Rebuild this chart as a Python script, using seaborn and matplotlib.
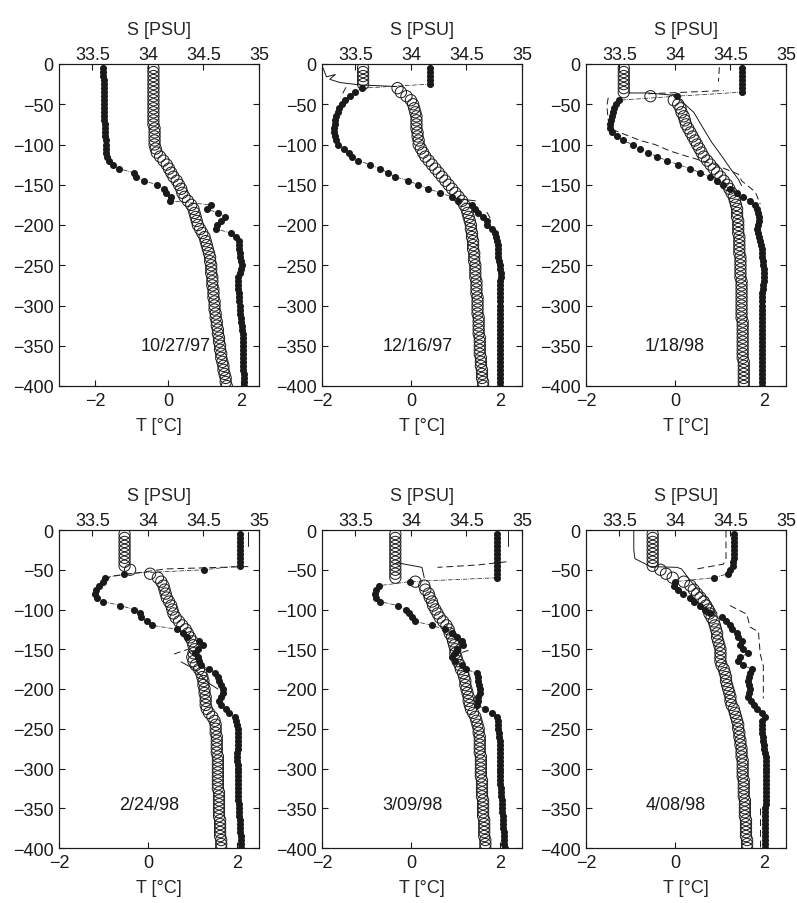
import numpy as np
import pandas as pd
import matplotlib
matplotlib.use("Agg")
import matplotlib.pyplot as plt
import seaborn as sns

sns.set_theme(style="ticks")
plt.rcParams['font.family'] = ['Liberation Sans', 'DejaVu Sans']
plt.rcParams['axes.linewidth'] = 0.8

# ---------------- data ----------------
DEPTH = [-5, -10, -15, -20, -25, -30, -35, -40, -45, -50,
         -55, -60, -65, -70, -75, -80, -85, -90, -95, -100,
         -105, -110, -115, -120, -125, -130, -135, -140, -145, -150,
         -155, -160, -165, -170, -175, -180, -185, -190, -195, -200,
         -205, -210, -215, -220, -225, -230, -235, -240, -245, -250,
         -255, -260, -265, -270, -275, -280, -285, -290, -295, -300,
         -305, -310, -315, -320, -325, -330, -335, -340, -345, -350,
         -355, -360, -365, -370, -375, -380, -385, -390, -395, -400]

DATES = ["10/27/97", "12/16/97", "1/18/98", "2/24/98", "3/09/98", "4/08/98"]

T1 = [-1.78, -1.78, -1.78, -1.77, -1.77, -1.77, -1.77, -1.76, -1.76, -1.76,
      -1.76, -1.75, -1.75, -1.75, -1.74, -1.74, -1.73, -1.73, -1.72, -1.72,
      -1.71, -1.70, -1.68, -1.62, -1.52, -1.36, -0.95, -0.88, -0.67, -0.30,
      -0.12, -0.05, 0.07, 0.05, 1.18, 1.08, 1.36, 1.57, 1.45, 1.35,
      1.32, 1.73, 1.87, 1.94, 1.95, 1.96, 1.97, 1.99, 2.01, 2.03,
      2.01, 1.97, 1.93, 1.92, 1.92, 1.93, 1.94, 1.95, 1.96, 1.97,
      1.98, 1.99, 2.00, 2.01, 2.02, 2.04, 2.05, 2.06, 2.06, 2.07,
      2.07, 2.06, 2.06, 2.05, 2.06, 2.07, 2.08, 2.08, 2.09, 2.10]
S1 = [34.05, 34.05, 34.05, 34.05, 34.05, 34.05, 34.05, 34.05, 34.05, 34.05,
      34.05, 34.05, 34.05, 34.05, 34.05, 34.06, 34.06, 34.06, 34.06, 34.06,
      34.07, 34.08, 34.11, 34.14, 34.17, 34.19, 34.21, 34.23, 34.26, 34.28,
      34.30, 34.31, 34.33, 34.36, 34.39, 34.41, 34.42, 34.43, 34.44, 34.45,
      34.47, 34.49, 34.51, 34.52, 34.53, 34.54, 34.55, 34.56, 34.56, 34.57,
      34.57, 34.57, 34.58, 34.58, 34.58, 34.59, 34.59, 34.59, 34.60, 34.60,
      34.60, 34.61, 34.61, 34.62, 34.62, 34.63, 34.63, 34.64, 34.64, 34.65,
      34.65, 34.66, 34.66, 34.67, 34.68, 34.68, 34.69, 34.70, 34.70, 34.71]

T2 = [0.43, 0.43, 0.43, 0.43, 0.43, -1.10, -1.25, -1.38, -1.48, -1.56,
      -1.61, -1.65, -1.68, -1.70, -1.71, -1.72, -1.72, -1.71, -1.69, -1.64,
      -1.50, -1.40, -1.33, -1.19, -0.92, -0.70, -0.51, -0.36, -0.06, 0.17,
      0.39, 0.66, 0.92, 1.07, 1.37, 1.45, 1.52, 1.62, 1.71, 1.71,
      1.82, 1.90, 1.92, 1.94, 1.95, 1.96, 1.97, 1.97, 1.99, 2.01,
      2.01, 2.02, 2.02, 2.01, 2.01, 2.01, 2.00, 2.01, 2.01, 2.01,
      2.01, 2.00, 2.00, 2.00, 2.00, 2.00, 2.00, 2.00, 2.00, 2.00,
      2.00, 2.00, 2.00, 2.00, 2.00, 2.00, 2.00, 2.00, 2.00, 2.00]
S2 = [33.57, 33.57, 33.57, 33.57, 33.57, 33.88, 33.91, 33.96, 34.00, 34.02,
      34.03, 34.04, 34.05, 34.05, 34.05, 34.05, 34.06, 34.06, 34.07, 34.07,
      34.09, 34.11, 34.13, 34.16, 34.19, 34.22, 34.25, 34.28, 34.31, 34.34,
      34.37, 34.40, 34.43, 34.46, 34.48, 34.50, 34.51, 34.52, 34.53, 34.54,
      34.54, 34.55, 34.55, 34.56, 34.56, 34.56, 34.57, 34.57, 34.57, 34.58,
      34.58, 34.58, 34.58, 34.59, 34.59, 34.59, 34.59, 34.60, 34.60, 34.60,
      34.60, 34.60, 34.61, 34.61, 34.61, 34.61, 34.61, 34.62, 34.62, 34.62,
      34.62, 34.62, 34.63, 34.63, 34.63, 34.64, 34.64, 34.64, 34.65, 34.65]

T3 = [1.50, 1.50, 1.50, 1.50, 1.50, 1.50, 1.50, 0.04, -1.25, -1.33,
      -1.36, -1.39, -1.42, -1.44, -1.46, -1.45, -1.42, -1.30, -1.17, -0.95,
      -0.78, -0.60, -0.41, -0.18, 0.08, 0.34, 0.57, 0.79, 0.94, 1.09,
      1.24, 1.39, 1.54, 1.69, 1.80, 1.84, 1.88, 1.90, 1.89, 1.87,
      1.85, 1.88, 1.90, 1.91, 1.93, 1.95, 1.96, 1.97, 1.98, 1.99,
      2.00, 2.00, 2.00, 2.00, 1.99, 1.98, 1.97, 1.96, 1.95, 1.95,
      1.95, 1.95, 1.95, 1.95, 1.95, 1.95, 1.95, 1.95, 1.95, 1.95,
      1.95, 1.96, 1.96, 1.96, 1.96, 1.96, 1.97, 1.97, 1.97, 1.97]
S3 = [33.54, 33.54, 33.54, 33.54, 33.54, 33.54, 33.54, 33.78, 33.99, 34.03,
      34.05, 34.06, 34.08, 34.09, 34.10, 34.12, 34.14, 34.16, 34.18, 34.20,
      34.22, 34.24, 34.26, 34.29, 34.32, 34.35, 34.38, 34.41, 34.44, 34.47,
      34.49, 34.51, 34.53, 34.54, 34.55, 34.56, 34.56, 34.56, 34.57, 34.57,
      34.57, 34.57, 34.58, 34.58, 34.58, 34.58, 34.58, 34.59, 34.59, 34.59,
      34.59, 34.59, 34.59, 34.60, 34.60, 34.60, 34.60, 34.60, 34.60, 34.60,
      34.60, 34.60, 34.60, 34.61, 34.61, 34.61, 34.61, 34.61, 34.61, 34.61,
      34.61, 34.61, 34.61, 34.62, 34.62, 34.62, 34.62, 34.62, 34.62, 34.62]

T4 = [2.08, 2.08, 2.08, 2.08, 2.08, 2.08, 2.08, 2.08, 2.08, 1.26,
      -0.54, -0.96, -1.00, -1.11, -1.17, -1.19, -1.15, -1.00, -0.62, -0.32,
      -0.17, -0.15, -0.02, 0.10, 0.66, 0.78, 0.89, 1.15, 1.23, 1.12,
      1.05, 1.12, 1.15, 1.19, 1.38, 1.50, 1.57, 1.61, 1.65, 1.68,
      1.68, 1.64, 1.61, 1.64, 1.76, 1.83, 1.95, 1.99, 2.01, 2.02,
      2.03, 2.03, 2.03, 2.02, 2.02, 2.01, 2.01, 2.01, 2.02, 2.02,
      2.02, 2.02, 2.02, 2.02, 2.02, 2.02, 2.03, 2.03, 2.04, 2.04,
      2.05, 2.06, 2.07, 2.08, 2.08, 2.08, 2.09, 2.09, 2.10, 2.10]
S4 = [33.79, 33.79, 33.79, 33.79, 33.79, 33.79, 33.79, 33.79, 33.79, 33.84,
      34.02, 34.09, 34.12, 34.14, 34.15, 34.16, 34.17, 34.19, 34.21, 34.22,
      34.23, 34.25, 34.28, 34.31, 34.34, 34.36, 34.38, 34.40, 34.41, 34.42,
      34.41, 34.40, 34.41, 34.43, 34.46, 34.48, 34.49, 34.50, 34.50, 34.51,
      34.51, 34.52, 34.52, 34.52, 34.53, 34.55, 34.58, 34.60, 34.61, 34.61,
      34.61, 34.62, 34.62, 34.62, 34.62, 34.62, 34.63, 34.63, 34.63, 34.63,
      34.63, 34.63, 34.63, 34.63, 34.63, 34.64, 34.64, 34.64, 34.64, 34.64,
      34.64, 34.64, 34.65, 34.65, 34.65, 34.65, 34.65, 34.66, 34.66, 34.66]

T5 = [1.94, 1.94, 1.94, 1.94, 1.94, 1.94, 1.94, 1.94, 1.94, 1.94,
      1.94, 1.94, -0.03, -0.71, -0.78, -0.80, -0.78, -0.70, -0.30, -0.12,
      -0.05, 0.02, 0.10, 0.47, 0.77, 0.92, 1.03, 1.14, 1.17, 1.03,
      0.99, 0.92, 0.99, 1.16, 1.23, 1.48, 1.52, 1.52, 1.54, 1.56,
      1.55, 1.52, 1.50, 1.48, 1.67, 1.82, 1.94, 1.97, 1.97, 1.97,
      1.98, 1.99, 2.00, 2.01, 2.01, 2.01, 2.01, 2.01, 2.01, 2.01,
      2.01, 2.01, 2.01, 2.01, 2.02, 2.02, 2.03, 2.04, 2.05, 2.06,
      2.06, 2.07, 2.07, 2.08, 2.08, 2.09, 2.09, 2.10, 2.10, 2.11]
S5 = [33.86, 33.86, 33.86, 33.86, 33.86, 33.86, 33.86, 33.86, 33.86, 33.86,
      33.86, 33.86, 34.04, 34.12, 34.13, 34.16, 34.17, 34.19, 34.20, 34.22,
      34.24, 34.26, 34.29, 34.32, 34.34, 34.35, 34.37, 34.38, 34.39, 34.40,
      34.40, 34.41, 34.42, 34.44, 34.45, 34.47, 34.48, 34.49, 34.49, 34.50,
      34.51, 34.52, 34.52, 34.53, 34.54, 34.56, 34.58, 34.59, 34.60, 34.61,
      34.61, 34.62, 34.62, 34.62, 34.62, 34.62, 34.63, 34.63, 34.63, 34.63,
      34.63, 34.63, 34.64, 34.64, 34.64, 34.64, 34.64, 34.65, 34.65, 34.65,
      34.65, 34.65, 34.66, 34.66, 34.66, 34.66, 34.66, 34.67, 34.67, 34.67]

T6 = [1.32, 1.32, 1.32, 1.32, 1.32, 1.32, 1.32, 1.31, 1.30, 1.25,
      1.20, 0.88, 0.00, -0.03, 0.08, 0.19, 0.34, 0.42, 0.57, 0.68,
      0.79, 1.05, 1.15, 1.24, 1.28, 1.39, 1.43, 1.50, 1.46, 1.54,
      1.65, 1.46, 1.43, 1.54, 1.73, 1.69, 1.66, 1.65, 1.66, 1.69,
      1.66, 1.65, 1.72, 1.77, 1.84, 1.96, 2.03, 1.95, 1.95, 1.95,
      1.96, 1.98, 1.99, 2.00, 2.01, 2.03, 2.04, 2.05, 2.05, 2.05,
      2.05, 2.05, 2.05, 2.05, 2.05, 2.04, 2.04, 2.04, 2.04, 2.03,
      2.03, 2.03, 2.03, 2.03, 2.03, 2.03, 2.03, 2.03, 2.03, 2.03]
S6 = [33.80, 33.80, 33.80, 33.80, 33.80, 33.80, 33.80, 33.80, 33.80, 33.87,
      33.92, 33.98, 34.08, 34.14, 34.17, 34.20, 34.23, 34.26, 34.28, 34.30,
      34.31, 34.33, 34.35, 34.36, 34.37, 34.38, 34.38, 34.39, 34.40, 34.41,
      34.41, 34.41, 34.41, 34.42, 34.44, 34.45, 34.46, 34.46, 34.47, 34.48,
      34.49, 34.50, 34.50, 34.51, 34.53, 34.54, 34.55, 34.56, 34.57, 34.57,
      34.58, 34.58, 34.59, 34.59, 34.60, 34.60, 34.60, 34.61, 34.61, 34.61,
      34.61, 34.61, 34.62, 34.62, 34.62, 34.62, 34.62, 34.63, 34.63, 34.63,
      34.63, 34.63, 34.64, 34.64, 34.64, 34.64, 34.64, 34.65, 34.65, 34.65]

# model profiles: (value, depth, segment id)
MODEL_T1 = []
MODEL_S1 = []
MODEL_T2 = [(-1.46, -29, 0), (-1.58, -41, 0), (1.71, -184, 1), (1.82, -195, 1)]
MODEL_S2 = [(33.21, -5, 0), (33.24, -16, 0), (33.32, -13, 0), (33.27, -19, 0),
            (33.36, -23, 0), (33.54, -26, 0), (33.87, -28, 0),
            (34.46, -168, 1), (34.58, -170, 1)]
MODEL_T3 = [(1.00, -4, 0), (0.98, -22, 0),
            (-1.50, -42, 1), (-1.53, -52, 1), (-1.50, -70, 1), (-1.38, -82, 1),
            (-0.78, -95, 1), (-0.45, -100, 1), (-0.11, -108, 1), (0.23, -114, 1),
            (0.90, -125, 1), (1.43, -137, 1), (1.50, -145, 1), (1.81, -159, 1),
            (1.92, -174, 1),
            (-0.60, -37, 2), (1.10, -33, 2)]
MODEL_S3 = [(33.58, -36, 0), (33.76, -36, 0), (34.00, -39, 0), (34.17, -60, 0),
            (34.26, -81, 0), (34.33, -97, 0), (34.42, -114, 0), (34.50, -130, 0),
            (34.57, -143, 0), (34.60, -151, 0)]
MODEL_T4 = [(2.26, -46, 0), (1.00, -48, 0), (0.40, -49, 0), (-0.77, -58, 0),
            (-0.96, -62, 0), (0.59, -156, 1), (0.90, -150, 1)]
MODEL_S4 = [(34.90, -2, 0), (34.90, -20, 0),
            (34.30, -166, 1), (34.42, -175, 1), (34.54, -192, 1), (34.63, -200, 1)]
MODEL_T5 = [(2.15, -40, 0), (1.50, -44, 0), (0.60, -47, 0),
            (1.15, -154, 1), (1.37, -150, 1)]
MODEL_S5 = [(34.87, -1, 0), (34.87, -20, 0),
            (33.87, -41, 1), (34.10, -47, 1), (34.12, -60, 1)]
MODEL_T6 = [(1.15, -1, 0), (1.15, -36, 0), (1.09, -43, 0), (0.49, -49, 0),
            (1.24, -95, 1), (1.62, -106, 1), (1.69, -122, 1), (1.88, -128, 1),
            (1.92, -156, 1), (1.99, -171, 1), (1.99, -212, 1),
            (1.92, -350, 2), (1.92, -400, 2)]
MODEL_S6 = [(33.63, -1, 0), (33.63, -25, 0), (33.64, -36, 0), (33.78, -46, 0),
            (34.02, -47, 0), (34.06, -49, 0), (34.13, -62, 0), (34.20, -74, 0),
            (34.32, -91, 0), (34.38, -105, 0)]

T_PROFILES = [T1, T2, T3, T4, T5, T6]
S_PROFILES = [S1, S2, S3, S4, S5, S6]
MODEL_T = [MODEL_T1, MODEL_T2, MODEL_T3, MODEL_T4, MODEL_T5, MODEL_T6]
MODEL_S = [MODEL_S1, MODEL_S2, MODEL_S3, MODEL_S4, MODEL_S5, MODEL_S6]
T_LIMITS = [(-3, 2.5), (-2, 2.5), (-2, 2.5), (-2, 2.5), (-2, 2.5), (-2, 2.5)]
S_LIMITS = (33.2, 35)
T_TICKS = [-2, 0, 2]
S_TICKS = [33.5, 34, 34.5, 35]
S_TICKLABELS = ["33.5", "34", "34.5", "35"]
Z_TICKS = [0, -50, -100, -150, -200, -250, -300, -350, -400]

# ---------------- layout ----------------
W, H = 797, 904
COL_LEFT = [59, 322, 586]
ROW_TOP = [65, 531]
ROW_H = [322, 318]
AX_W = 200
DATE_POS = [(0.20, -350), (0.15, -350), (0.0, -350), (0.02, -345), (0.03, -345), (0.03, -345)]
FS = 13

fig = plt.figure(figsize=(W / 100, H / 100), dpi=100)


def model_lines(ax, pts, dashed):
    if not pts:
        return
    df = pd.DataFrame(pts, columns=["v", "z", "seg"])
    sns.lineplot(data=df, x="v", y="z", units="seg", estimator=None, sort=False,
                 ax=ax, color="k", lw=0.7, legend=False,
                 dashes=False, linestyle=(0, (7, 4)) if dashed else "-")


for i in range(6):
    r, c = divmod(i, 3)
    rect = [COL_LEFT[c] / W, (H - ROW_TOP[r] - ROW_H[r]) / H, AX_W / W, ROW_H[r] / H]
    ax = fig.add_axes(rect)
    axs = ax.twiny()

    dfT = pd.DataFrame({"T": T_PROFILES[i], "z": DEPTH})
    dfS = pd.DataFrame({"S": S_PROFILES[i], "z": DEPTH})

    # observed temperature: dots joined by a thin dash-dot line
    sns.lineplot(data=dfT, x="T", y="z", sort=False, estimator=None, ax=ax,
                 color="k", lw=0.5, linestyle="-.", legend=False)
    sns.scatterplot(data=dfT, x="T", y="z", ax=ax, color="k", s=26,
                    linewidth=0, marker="o", legend=False, zorder=3)
    model_lines(ax, MODEL_T[i], dashed=True)

    # observed salinity: open circles
    sns.scatterplot(data=dfS, x="S", y="z", ax=axs, marker="o", s=66,
                    facecolor="none", edgecolor="k", linewidth=0.7, legend=False)
    model_lines(axs, MODEL_S[i], dashed=False)

    ax.set_xlim(*T_LIMITS[i])
    axs.set_xlim(*S_LIMITS)
    ax.set_ylim(-400, 0)
    ax.set_xticks(T_TICKS)
    ax.set_yticks(Z_TICKS)
    axs.set_xticks(S_TICKS)
    axs.set_xticklabels(S_TICKLABELS)

    ax.tick_params(axis="both", direction="in", length=4, width=0.8,
                   labelsize=FS, pad=4, colors="k")
    ax.tick_params(axis="y", right=True, left=True)
    ax.tick_params(axis="x", top=False)
    axs.tick_params(axis="x", direction="in", length=4, width=0.8,
                    labelsize=FS, pad=0.5, colors="k")
    for a in (ax, axs):
        for sp in a.spines.values():
            sp.set_color("k")
            sp.set_linewidth(0.8)

    ax.set_xlabel("T [°C]", fontsize=FS, labelpad=6)
    ax.set_ylabel("")
    axs.set_xlabel("S [PSU]", fontsize=FS, labelpad=9)
    axs.set_ylabel("")

    ax.text(DATE_POS[i][0], DATE_POS[i][1], DATES[i], ha="center", va="center",
            fontsize=FS, color="k", zorder=5)

fig.savefig("out.png", dpi=100)
